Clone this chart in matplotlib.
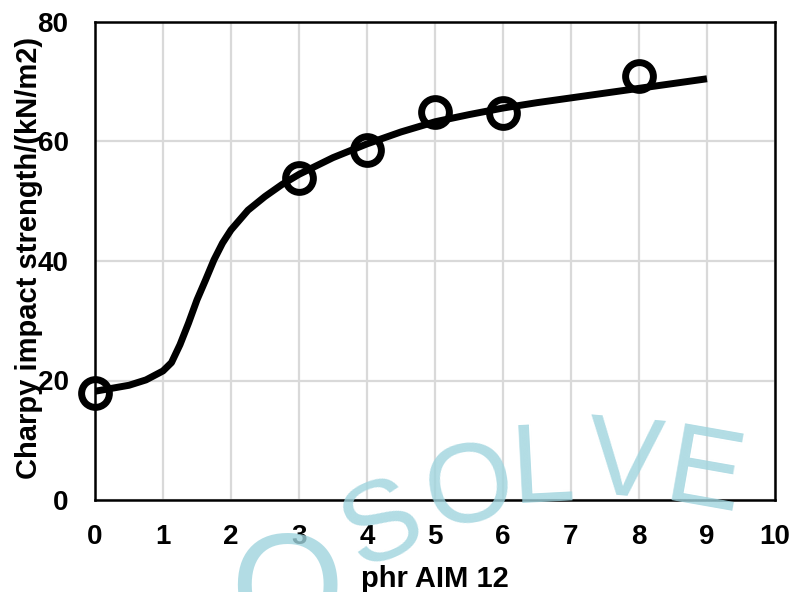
import matplotlib
matplotlib.use("Agg")
import matplotlib.pyplot as plt

# ---- data ----
point_x = [0, 3, 4, 5, 6, 8]
point_y = [17.9, 53.9, 58.6, 64.9, 64.8, 71.0]

curve_x = [0, 0.25, 0.5, 0.75, 1.0, 1.125, 1.25, 1.375, 1.5, 1.625, 1.75, 1.875,
           2.0, 2.25, 2.5, 2.75, 3.0, 3.5, 4.0, 4.5, 5.0, 5.5, 6.0, 6.5, 7.0,
           7.5, 8.0, 8.5, 9.0]
curve_y = [18.2, 18.7, 19.2, 20.1, 21.6, 23.0, 26.0, 29.6, 33.5, 36.8, 40.2, 43.0,
           45.2, 48.5, 50.8, 52.8, 54.5, 57.3, 59.6, 61.6, 63.3, 64.5, 65.6, 66.5,
           67.3, 68.1, 68.9, 69.7, 70.5]

x_ticks = [0, 1, 2, 3, 4, 5, 6, 7, 8, 9, 10]
y_ticks = [0, 20, 40, 60, 80]
x_label = "phr AIM 12"
y_label = "Charpy impact strength/(kN/m2)"
watermark = [("S", 383, 527, 24, 82), ("O", 470, 492, 10, 82), ("L", 543, 472, 3, 82),
             ("V", 624, 466, -5, 82), ("E", 704, 478, -10, 82), ("O", 287, 598, 0, 105)]

plt.rcParams['font.family'] = ['Liberation Sans', 'DejaVu Sans']

W, H = 792, 592
fig = plt.figure(figsize=(W / 100, H / 100), dpi=100)
ax = fig.add_axes([95 / W, 1 - 500 / H, 680 / W, 478 / H])

ax.plot(curve_x, curve_y, color='black', lw=5, solid_capstyle='butt',
        solid_joinstyle='round', zorder=3)
ax.plot(point_x, point_y, 'o', ms=20, mfc='none', mec='black', mew=5,
        zorder=4, clip_on=False)

ax.set_xlim(0, 10)
ax.set_ylim(0, 80)
ax.set_xticks(x_ticks)
ax.set_yticks(y_ticks)
ax.grid(True, color='#d9d9d9', lw=1.6)
ax.set_axisbelow(True)
for s in ax.spines.values():
    s.set_color('black')
    s.set_linewidth(1.8)
ax.tick_params(length=0, labelsize=20)
ax.tick_params(axis='x', pad=17)
ax.tick_params(axis='y', pad=19)
for lab in ax.get_xticklabels() + ax.get_yticklabels():
    lab.set_fontweight('bold')

ax.set_xlabel(x_label, fontsize=21, fontweight='bold', va='center')
ax.xaxis.set_label_coords(0.5, -(579 - 500) / 478)
ax.set_ylabel(y_label, fontsize=21, fontweight='bold', va='center')
ax.yaxis.set_label_coords((29 - 95) / 680, (500 - 258) / 478)

for ch, px, py, rot, fs in watermark:
    fig.text(px / W, 1 - py / H, ch, fontsize=fs, color='#9fd4de', alpha=0.8,
             ha='center', va='center', rotation=rot, zorder=0.5,
             family='Liberation Sans')

fig.savefig('out.png', dpi=100)
